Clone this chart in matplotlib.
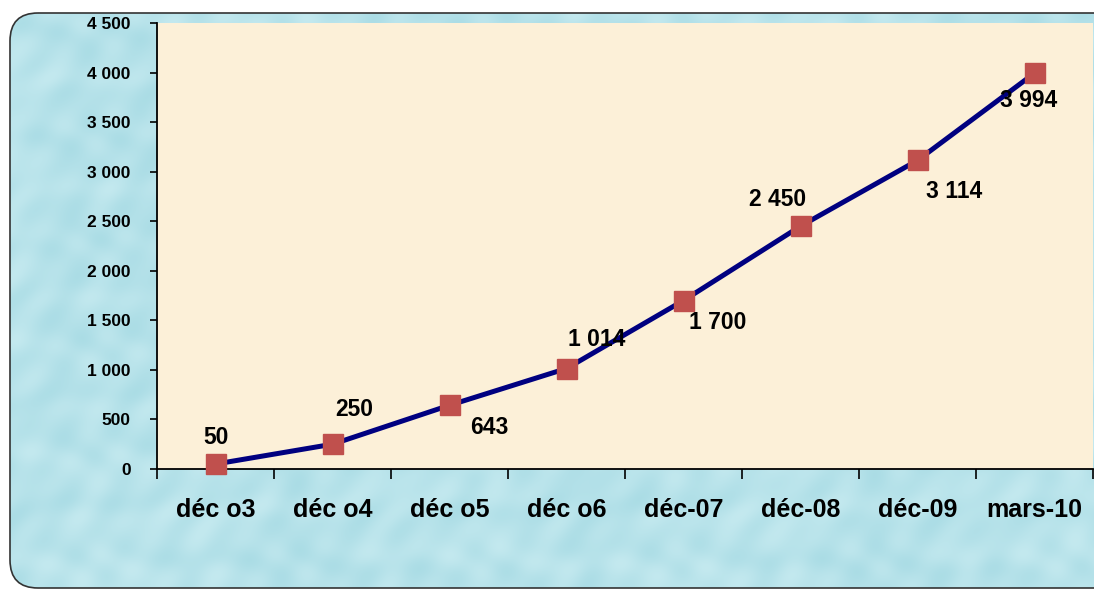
import matplotlib
matplotlib.use("Agg")
import matplotlib.pyplot as plt
import numpy as np
from matplotlib.patches import FancyBboxPatch
from matplotlib.ticker import FuncFormatter

categories = ["déc o3", "déc o4", "déc o5", "déc o6", "déc-07", "déc-08", "déc-09", "mars-10"]
values = [50, 250, 643, 1014, 1700, 2450, 3114, 3994]
labels = ["50", "250", "643", "1 014", "1 700", "2 450", "3 114", "3 994"]
yticks = [0, 500, 1000, 1500, 2000, 2500, 3000, 3500, 4000, 4500]
label_offsets = [(1, 27), (22, 35), (40, -22), (30, 29), (34, -22), (-23, 27), (37, -31), (-6, -27)]

W, H = 1094, 590
fig = plt.figure(figsize=(W / 100, H / 100), dpi=100)
fig.patch.set_facecolor("white")

# background axes (pixel coords)
bg = fig.add_axes([0, 0, 1, 1])
bg.set_xlim(0, W)
bg.set_ylim(H, 0)
bg.axis("off")
box = FancyBboxPatch((10, 13), W + 40, H - 15, boxstyle="round,pad=0,rounding_size=28",
                     facecolor="none", edgecolor="#333333", linewidth=1.2, zorder=3)
bg.add_patch(box)
yy, xx = np.mgrid[0:H, 0:W]
grad = (0.55 + 0.18 * np.sin(xx / 23.0 + np.cos(yy / 17.0) * 2) * np.cos(yy / 19.0 + np.sin(xx / 31.0) * 2)
        + 0.08 * np.sin(xx / 7.0 + yy / 11.0))
grad = np.clip(grad, 0, 1)
c1 = np.array([0.62, 0.84, 0.88])
c2 = np.array([0.80, 0.93, 0.95])
img = c1[None, None, :] * (1 - grad[..., None]) + c2[None, None, :] * grad[..., None]
im = bg.imshow(img, extent=(0, W, H, 0), zorder=1, interpolation="bilinear")
im.set_clip_path(box)

left, right = 157 / W, 1093 / W
bottom, top = (H - 469) / H, (H - 23) / H
ax = fig.add_axes([left, bottom, right - left, top - bottom])
ax.set_facecolor("#fcf0d8")
x = np.arange(len(categories))
ax.plot(x, values, color="#000080", linewidth=3.6, zorder=3)
ax.plot(x, values, linestyle="none", marker="s", markersize=14.5,
        markerfacecolor="#c0504d", markeredgecolor="#c0504d", zorder=4, clip_on=False)
for xi, v, lab, (dx, dy) in zip(x, values, labels, label_offsets):
    ax.annotate(lab, (xi, v), xytext=(dx, dy), textcoords="offset pixels",
                ha="center", va="center", fontsize=16.5, fontweight="bold",
                family="Liberation Sans", color="black", zorder=5)

ax.set_xlim(-0.5, len(categories) - 0.5)
ax.set_ylim(0, 4500)
ax.set_yticks(yticks)
ax.yaxis.set_major_formatter(FuncFormatter(lambda v, p: f"{int(v):,}".replace(",", " ")))
ax.set_xticks(x)
ax.set_xticklabels(categories)
ax.set_xticks(np.arange(-0.5, len(categories) + 0.5, 1), minor=True)
ax.tick_params(axis="x", which="major", length=0, pad=21)
ax.tick_params(axis="x", which="minor", length=7, width=1.2, direction="out")
ax.tick_params(axis="y", length=5, width=1.2, pad=14)
for t in ax.get_xticklabels():
    t.set_fontsize(18); t.set_fontweight("bold"); t.set_family("Liberation Sans")
for t in ax.get_yticklabels():
    t.set_fontsize(12.5); t.set_fontweight("bold"); t.set_family("Liberation Sans")
for s in ["top", "right"]:
    ax.spines[s].set_visible(False)
for s in ["left", "bottom"]:
    ax.spines[s].set_linewidth(1.3)
    ax.spines[s].set_color("black")

fig.savefig("out.png", dpi=100)
